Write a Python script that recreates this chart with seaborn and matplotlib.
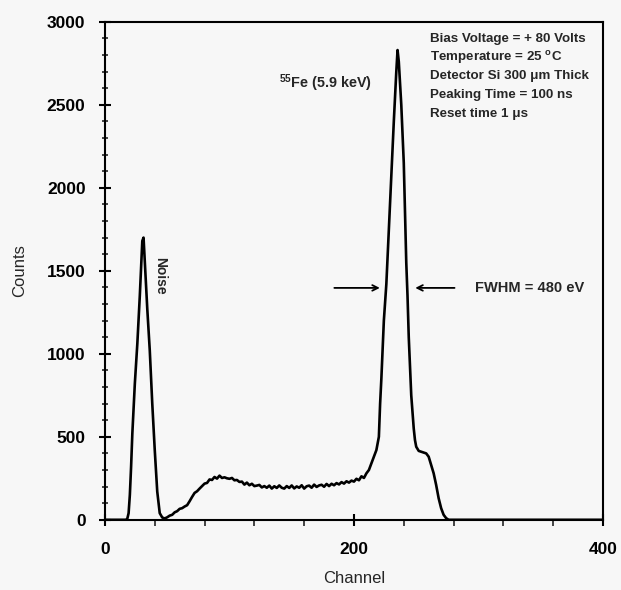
import numpy as np
import pandas as pd
import seaborn as sns
import matplotlib.pyplot as plt
from matplotlib.ticker import MultipleLocator

# spectrum (channel, counts)
channel = [0, 10, 17, 18, 19, 20, 21, 22, 24, 26, 28, 30, 31, 32, 34, 36, 38, 40, 42, 44, 46, 48,
           50, 52, 54, 56, 58, 60, 62, 64, 66, 68, 70, 72, 74, 76, 78, 80, 82, 84, 86, 88,
           90, 92, 94, 96, 98, 100, 102, 104, 106, 108, 110, 112, 114, 116, 118, 120, 122,
           124, 126, 128, 130, 132, 134, 136, 138, 140, 142, 144, 146, 148, 150, 152, 154,
           156, 158, 160, 162, 164, 166, 168, 170, 172, 174, 176, 178, 180, 182, 184, 186,
           188, 190, 192, 194, 196, 198, 200, 202, 204, 206, 208, 210, 212, 214, 216, 218,
           220, 221, 222, 223, 224, 226, 228, 230, 232, 234, 235, 236, 238, 240, 242, 243,
           244, 246, 248, 249, 250, 252, 254, 256, 258, 260, 262, 264, 266, 268, 270,
           272, 274, 276, 300, 350, 400]
counts = [0, 0, 0, 8, 40, 150, 320, 520, 820, 1060, 1350, 1680, 1700, 1560, 1270, 1020, 700, 420, 170, 40, 14, 8,
          15, 25, 30, 45, 52, 66, 70, 80, 88, 112, 138, 162, 172, 188, 203, 218, 222, 243, 240, 258,
          248, 266, 252, 256, 250, 247, 252, 238, 240, 228, 230, 212, 224, 208, 217, 203, 206,
          210, 195, 203, 193, 206, 188, 202, 192, 207, 193, 188, 203, 192, 207, 189, 201,
          193, 208, 188, 202, 206, 193, 212, 198, 207, 211, 199, 216, 203, 217, 208, 221,
          213, 227, 218, 232, 224, 236, 230, 247, 238, 262, 252, 280, 300, 340, 380, 420,
          500, 700, 850, 1020, 1200, 1420, 1750, 2080, 2400, 2700, 2830, 2760, 2500, 2150, 1550, 1350,
          1100, 750, 550, 480, 440, 415, 410, 405, 400, 380, 330, 280, 210, 130, 70,
          30, 10, 0, 0, 0, 0]

info_lines = ["Bias Voltage = + 80 Volts",
              "Temperature = 25 $^{\\mathregular{o}}$C",
              "Detector Si 300 \u03bcm Thick",
              "Peaking Time = 100 ns",
              "Reset time 1 \u03bcs"]

df = pd.DataFrame({"Channel": channel, "Counts": counts})

sns.set_style("ticks")
plt.rcParams["font.family"] = ["Liberation Sans", "DejaVu Sans"]
bg = "#f7f7f7"

fig = plt.figure(figsize=(6.21, 5.90), dpi=100, facecolor=bg)
ax = fig.add_axes([0.169, 0.119, 0.802, 0.844], facecolor=bg)

sns.lineplot(data=df, x="Channel", y="Counts", color="black", linewidth=1.9, ax=ax)

ax.set_xlim(0, 400)
ax.set_ylim(0, 3000)
ax.xaxis.set_major_locator(MultipleLocator(200))
ax.xaxis.set_minor_locator(MultipleLocator(40))
ax.yaxis.set_major_locator(MultipleLocator(500))
ax.yaxis.set_minor_locator(MultipleLocator(100))
ax.tick_params(axis="both", which="major", direction="inout", length=8, width=1.5,
               labelsize=12.5, colors="black")
ax.tick_params(axis="x", which="major", pad=12)
ax.tick_params(axis="y", which="major", pad=10)
ax.tick_params(axis="y", which="minor", direction="inout", length=5, width=1.2)
ax.tick_params(axis="x", which="minor", direction="out", length=4, width=1.2)
for lab in ax.get_xticklabels() + ax.get_yticklabels():
    lab.set_fontweight("bold")
for sp in ax.spines.values():
    sp.set_linewidth(1.5)
    sp.set_color("black")

ax.set_xlabel("Channel", fontsize=12, labelpad=10)
ax.set_ylabel("Counts", fontsize=12, labelpad=14)

# annotations
ax.text(44, 1470, "Noise", rotation=-90, ha="center", va="center", fontsize=10, fontweight="bold")
ax.text(140, 2630, "$^{\\mathregular{55}}$Fe (5.9 keV)", ha="left", va="center", fontsize=10.4,
        fontweight="bold")
for i, line in enumerate(info_lines):
    ax.text(261, 2895 - i * 112, line, ha="left", va="center", fontsize=9.6, fontweight="bold")

ax.annotate("", xy=(223, 1397), xytext=(182, 1397),
            arrowprops=dict(arrowstyle="->", color="black", lw=1.3))
ax.annotate("", xy=(247, 1397), xytext=(283, 1397),
            arrowprops=dict(arrowstyle="->", color="black", lw=1.3))
ax.text(297, 1397, "FWHM = 480 eV", ha="left", va="center", fontsize=10.5, fontweight="bold")

fig.savefig("out.png", dpi=100, facecolor=bg)
